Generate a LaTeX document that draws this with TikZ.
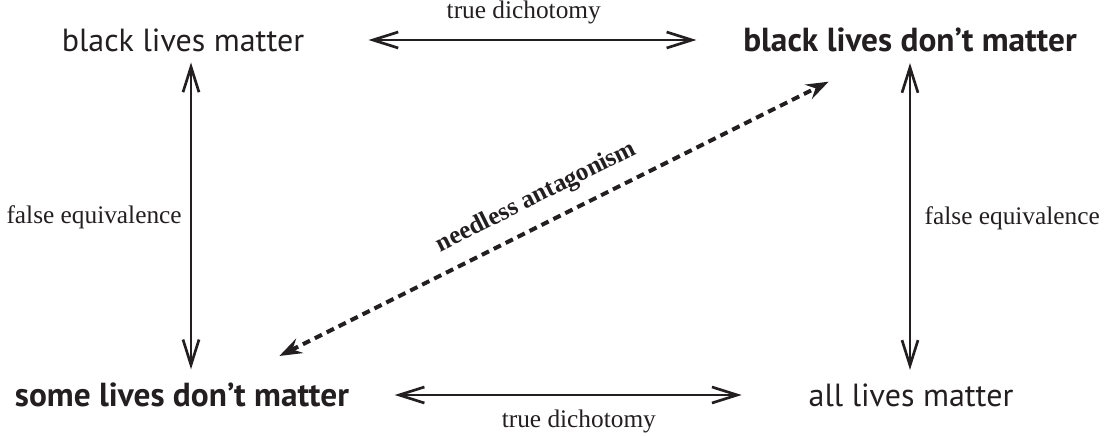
\documentclass[tikz,border=0pt]{standalone}
\usepackage{fontspec}
\setmainfont{Liberation Serif}
\setsansfont{PT Sans}
\usetikzlibrary{arrows.meta}

\begin{document}
\begin{tikzpicture}[x=0.75pt, y=-0.75pt,
  every node/.style={inner sep=0pt, text=tinta},
  lema/.style={font=\sffamily\fontsize{24}{28}\selectfont},
  lemaNegro/.style={font=\sffamily\bfseries\fontsize{25}{30}\selectfont},
  etiqueta/.style={font=\fontsize{19}{23}\selectfont},
  flecha/.style={draw=tinta, line width=2pt,
    {Straight Barb[length=19pt, width=12pt]}-{Straight Barb[length=19pt, width=12pt]}},
  punteada/.style={draw=tinta, line width=3pt, dash pattern=on 6pt off 4pt,
    {Stealth[length=17pt, width=12pt, inset=6pt]}-{Stealth[length=17pt, width=12pt, inset=6pt]}}]
  \definecolor{tinta}{RGB}{35,31,32}
  \useasboundingbox (0,0) rectangle (1108,436);

  % the four slogans
  \node[lema]      (blm)  at (183,40)  {black lives matter};
  \node[lemaNegro] (bldm) at (910,40)  {black lives don't matter};
  \node[lemaNegro] (sldm) at (182,395) {some lives don't matter};
  \node[lema]      (alm)  at (911,395) {all lives matter};

  % horizontal
  \draw[flecha, shorten <=48pt, shorten >=35pt] (blm) -- (bldm)
    node[etiqueta, midway, above=11pt] {true dichotomy};
  \draw[flecha, shorten <=34pt, shorten >=50pt] (sldm) -- (alm)
    node[etiqueta, midway, below=10pt] {true dichotomy};

  % vertical
  \draw[flecha, shorten <=8pt, shorten >=10pt] ([xshift=6pt]blm.south) -- ([xshift=6pt]blm.south |- sldm.north)
    node[etiqueta, midway, left=6pt] {false equivalence};
  \draw[flecha, shorten <=8pt, shorten >=10pt] (bldm.south) -- (bldm.south |- alm.north)
    node[etiqueta, midway, right=10pt] {false equivalence};

  % diagonal
  \draw[punteada] ([xshift=73pt, yshift=20pt]sldm.north) -- ([xshift=-61pt, yshift=-22pt]bldm.south)
    node[etiqueta, font=\bfseries\fontsize{19}{23}\selectfont, pos=0.49, above=10pt, sloped] {needless antagonism};
\end{tikzpicture}
\end{document}
